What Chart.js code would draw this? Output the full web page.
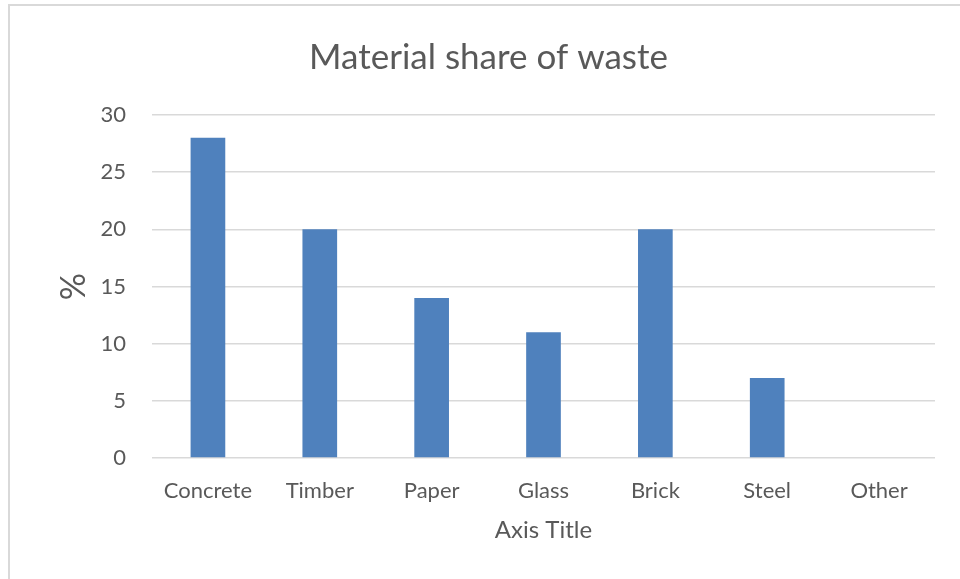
<!DOCTYPE html>
<html>
<head>
<meta charset="utf-8">
<script src="https://cdn.jsdelivr.net/npm/chart.js@4/dist/chart.umd.min.js"></script>
<style>
  html, body { margin: 0; padding: 0; background: #ffffff; overflow: hidden; }
  #wrap { position: relative; width: 960px; height: 579px; }
  #frame {
    position: absolute; left: 8px; top: 4px; width: 1000px; height: 1000px;
    border: 2px solid #d9d9d9; box-sizing: border-box; pointer-events: none;
  }
  canvas { position: absolute; left: 0; top: 0; }
</style>
</head>
<body>
<div id="wrap">
  <canvas id="chart" width="960" height="579"></canvas>
  <div id="frame"></div>
</div>
<script>
// Share of each material in the waste stream (%)
const categories = ['Concrete', 'Timber', 'Paper', 'Glass', 'Brick', 'Steel', 'Other'];
const shares = [28, 20, 14, 11, 20, 7, 0];
const yTicks = [0, 5, 10, 15, 20, 25, 30];

const textColor = '#595959';
const gridColor = '#d9d9d9';
const fontFamily = 'Lato, "Open Sans", sans-serif';

new Chart(document.getElementById('chart'), {
  type: 'bar',
  data: {
    labels: categories,
    datasets: [{
      data: shares,
      backgroundColor: '#4f81bd',
      borderWidth: 0,
      barPercentage: 0.31,
      categoryPercentage: 1.0
    }]
  },
  options: {
    responsive: false,
    animation: false,
    layout: { padding: { left: 42, right: 25, top: 0, bottom: 0 } },
    plugins: {
      legend: { display: false },
      tooltip: { enabled: false },
      title: {
        display: true,
        text: 'Material share of waste',
        color: textColor,
        font: { family: fontFamily, size: 35, weight: 'normal' },
        padding: { top: 37, bottom: 36 }
      }
    },
    scales: {
      x: {
        grid: { display: false, drawTicks: false },
        border: { display: false },
        ticks: {
          color: textColor,
          font: { family: fontFamily, size: 22 },
          padding: 20,
          maxRotation: 0
        },
        title: {
          display: true,
          text: 'Axis Title',
          color: textColor,
          font: { family: fontFamily, size: 24 },
          padding: { top: 0, bottom: 34 }
        },
        afterFit(scale) { scale.height = 121; }
      },
      y: {
        min: 0,
        max: 30,
        afterBuildTicks(scale) { scale.ticks = yTicks.map(v => ({ value: v })); },
        grid: { color: gridColor, lineWidth: 1.5, drawTicks: false },
        border: { display: false },
        ticks: {
          color: textColor,
          font: { family: fontFamily, size: 22 },
          padding: 26
        },
        title: {
          display: true,
          text: '%',
          color: textColor,
          font: { family: fontFamily, size: 34 },
          padding: { top: 12, bottom: 0 }
        },
        afterFit(scale) { scale.width = 110; }
      }
    }
  }
});
</script>
</body>
</html>
